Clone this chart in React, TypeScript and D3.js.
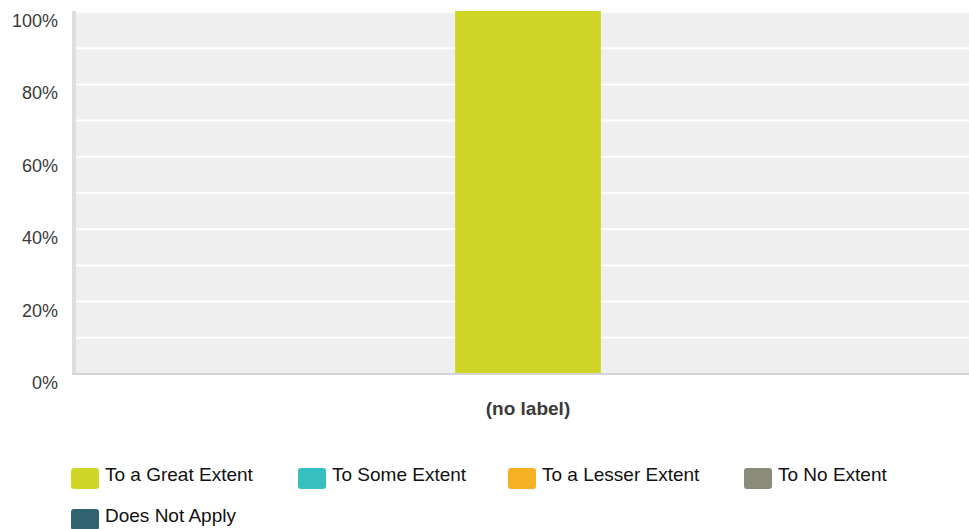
import React from "react";
import * as d3 from "d3";

const categories = ["(no label)"];
const seriesNames = ["To a Great Extent", "To Some Extent", "To a Lesser Extent", "To No Extent", "Does Not Apply"];
const seriesColors = ["#d0d628", "#35bfbf", "#f7b021", "#8a8b79", "#31626f"];
const seriesValues = [100, 0, 0, 0, 0];
const yTicks = [0, 20, 40, 60, 80, 100];
const gridTicks = [10, 20, 30, 40, 50, 60, 70, 80, 90, 100];

export default function App() {
  const W = 969, H = 529;
  const plotLeft = 76, plotRight = 980, plotTop = 11, plotBottom = 373;
  const y = d3.scaleLinear().domain([0, 100]).range([plotBottom, plotTop]);
  const x = d3.scaleBand().domain(categories).range([plotLeft, plotRight]).paddingInner(0).paddingOuter(2.6);
  const legendPos = [
    [71, 468], [298, 468], [508, 468], [744, 468], [71, 509],
  ];
  const font = "Liberation Sans, Arial, sans-serif";
  return (
    <svg width={W} height={H} style={{ position: "absolute", left: 0, top: 0, background: "#fff" }} fontFamily={font}>
      <rect x={plotLeft - 4} y={plotTop} width={plotRight - plotLeft + 4} height={plotBottom - plotTop} fill="#efefef" />
      <rect x={plotLeft - 4} y={plotTop} width={4} height={plotBottom - plotTop + 2} fill="#dedede" />
      {gridTicks.map((t) => (
        <line key={t} x1={plotLeft} x2={plotRight} y1={y(t) + 1} y2={y(t) + 1} stroke="#fff" strokeWidth={2} />
      ))}
      {categories.map((c) => {
        const v = seriesValues[0];
        return (
          <rect key={c} x={x(c)} y={y(v)} width={x.bandwidth()} height={y(0) - y(v)} fill={seriesColors[0]} />
        );
      })}
      <rect x={plotLeft - 4} y={plotBottom} width={plotRight - plotLeft + 4} height={2} fill="#d4d4d4" />
      {yTicks.map((t) => (
        <text key={t} x={58} y={y(t) + 16} textAnchor="end" fontSize={18} fill="#3a3a3a">{t}%</text>
      ))}
      {categories.map((c) => (
        <text key={c} x={(x(c) || 0) + x.bandwidth() / 2} y={415} textAnchor="middle" fontSize={19} fontWeight="bold" fill="#3a3a3a">{c}</text>
      ))}
      {seriesNames.map((s, i) => (
        <g key={s}>
          <rect x={legendPos[i][0]} y={legendPos[i][1]} width={28} height={21} rx={3} fill={seriesColors[i]} />
          <text x={legendPos[i][0] + 34} y={legendPos[i][1] + 13} fontSize={19} fill="#111">{s}</text>
        </g>
      ))}
    </svg>
  );
}
